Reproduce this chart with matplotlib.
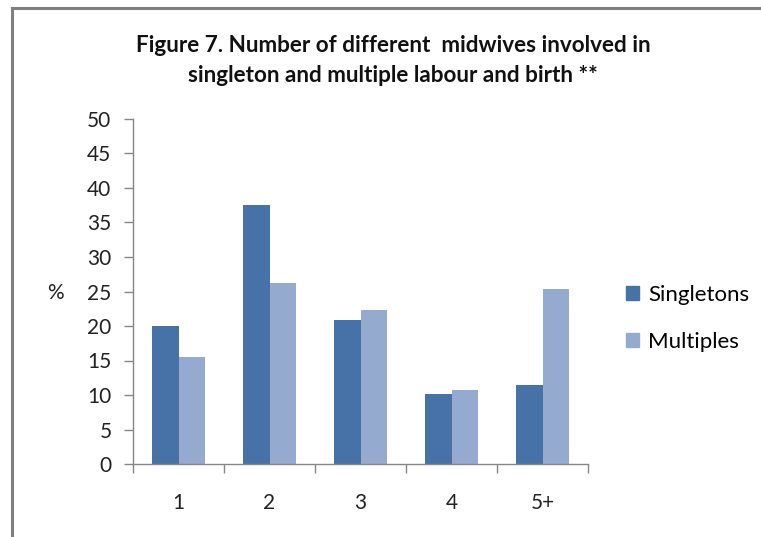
import numpy as np
import matplotlib
matplotlib.use("Agg")
import matplotlib.pyplot as plt
from matplotlib.lines import Line2D
from matplotlib.patches import Patch

plt.rcParams['font.family'] = ['Lato', 'DejaVu Sans']

# data
categories = ["1", "2", "3", "4", "5+"]
singletons = [20.0, 37.5, 20.9, 10.2, 11.4]
multiples = [15.5, 26.2, 22.3, 10.7, 25.4]
y_ticks = [0, 5, 10, 15, 20, 25, 30, 35, 40, 45, 50]

c_single = "#4672A8"
c_multi = "#95AACF"
grey = "#868686"
txt = "#222222"

W, H = 761, 537
fig = plt.figure(figsize=(W / 100, H / 100), dpi=100)
fig.patch.set_facecolor("white")

# outer frame (only left and top edges visible)
fig.add_artist(Line2D([12 / W, 12 / W], [0, 1 - 8 / H], color="#7f7f7f", lw=2.2, transform=fig.transFigure))
fig.add_artist(Line2D([12 / W, 1], [1 - 8 / H, 1 - 8 / H], color="#7f7f7f", lw=2.2, transform=fig.transFigure))

ax = fig.add_axes([133 / W, (H - 464) / H, (588 - 133) / W, (464 - 119) / H])

x = np.arange(len(categories))
bw = 0.286
ax.bar(x - bw / 2, singletons, width=bw, color=c_single, label="Singletons")
ax.bar(x + bw / 2, multiples, width=bw, color=c_multi, label="Multiples")

ax.set_xlim(-0.5, len(categories) - 0.5)
ax.set_ylim(0, 50)
ax.set_yticks(y_ticks)

# category boundaries as ticks, labels in the middle
ax.set_xticks(np.arange(-0.5, len(categories)), minor=False)
ax.set_xticklabels([])
ax.set_xticks(x, minor=True)
ax.set_xticklabels(categories, minor=True)
ax.tick_params(axis="x", which="major", direction="out", length=6.5, color=grey, width=1)
ax.tick_params(axis="x", which="minor", length=0, pad=21, labelsize=15, labelcolor=txt)
ax.tick_params(axis="y", direction="out", length=6.5, color=grey, width=1, pad=9, labelsize=15, labelcolor=txt)

for s in ["top", "right"]:
    ax.spines[s].set_visible(False)
for s in ["left", "bottom"]:
    ax.spines[s].set_color(grey)
    ax.spines[s].set_linewidth(1)

fig.text(55 / W, 1 - 293 / H, "%", fontsize=15, ha="center", va="center", color=txt)

fig.text(393 / W, 1 - 45 / H, "Figure 7. Number of different  midwives involved in",
         fontsize=16.2, fontweight="bold", ha="center", va="center", color="#111111")
fig.text(393 / W, 1 - 76 / H, "singleton and multiple labour and birth **",
         fontsize=16.2, fontweight="bold", ha="center", va="center", color="#111111")

handles = [Patch(color=c_single, label="Singletons"), Patch(color=c_multi, label="Multiples")]
fig.legend(handles=handles, loc="upper left", bbox_to_anchor=(626 / W, 1 - 285 / H),
           frameon=False, fontsize=16, handlelength=0.6, handleheight=0.6,
           handletextpad=0.4, labelspacing=1.2, borderaxespad=0, borderpad=0)

fig.savefig("out.png", dpi=100)
